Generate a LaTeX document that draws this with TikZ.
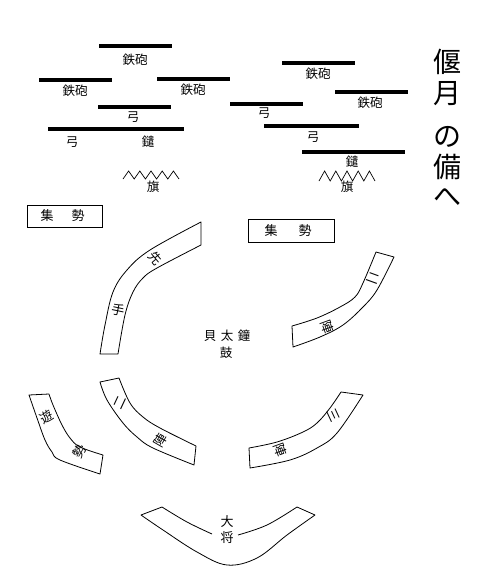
\documentclass[tikz,border=0pt]{standalone}
\usepackage{fontspec}
\newfontfamily\jp{Noto Sans CJK JP}
\begin{document}
\begin{tikzpicture}[x=1pt,y=-1pt,
  lbl/.style={font=\jp\fontsize{12.5}{13}\selectfont, inner sep=0pt},
  bandlbl/.style={font=\jp\fontsize{13}{13}\selectfont, inner sep=0.5pt},
  ttl/.style={font=\jp\fontsize{28}{28}\selectfont, inner sep=0pt},
  bar/.style={line width=4pt},
  band/.style={line width=0.8pt, line join=round},
  boxst/.style={draw, line width=0.8pt, inner sep=0pt},
  zig/.style={line width=0.7pt, line join=miter}]
\useasboundingbox (0,0) rectangle (500,568);

% ---- bars (left group)
\draw[bar] (99,46) -- (172,46);
\node[lbl] (t1) at (135,60) {鉄砲};
\draw[bar] (39,80) -- (112,80);
\node[lbl] (t2) at (75,91) {鉄砲};
\draw[bar] (157,79) -- (230,79);
\node[lbl] (t3) at (193,90) {鉄砲};
\draw[bar] (98,107) -- (171,107);
\node[lbl] (y1) at (133,117) {弓};
\draw[bar] (48,129) -- (184,129);
\node[lbl] (y2) at (72,142) {弓};
\node[lbl] (s1) at (148,142) {鑓};
\draw[zig] (123,179) -- (128.6,171) -- (134.2,179) -- (139.8,171) -- (145.4,179) -- (151,171) -- (156.6,179) -- (162.2,171) -- (167.8,179) -- (173.4,171) -- (179,179);
\node[lbl] (h1) at (153,187) {旗};

% ---- bars (right group)
\draw[bar] (282,63) -- (355,63);
\node[lbl] (t4) at (318,74) {鉄砲};
\draw[bar] (335,92) -- (408,92);
\node[lbl] (t5) at (370,103) {鉄砲};
\draw[bar] (230,104) -- (303,104);
\node[lbl] (y3) at (264,113) {弓};
\draw[bar] (264,126) -- (359,126);
\node[lbl] (y4) at (313,137) {弓};
\draw[bar] (302,152) -- (405,152);
\node[lbl] (s2) at (352,162) {鑓};
\draw[zig] (319,181) -- (324.6,171) -- (330.2,181) -- (335.8,171) -- (341.4,181) -- (347,171) -- (352.6,181) -- (358.2,171) -- (363.8,181) -- (369.4,171) -- (375,181);
\node[lbl] (h2) at (347,187) {旗};

% ---- title
\node[ttl] (c1) at (447,62) {偃};
\node[ttl] (c2) at (447,94) {月};
\node[ttl] (c3) at (447,137) {の};
\node[ttl] (c4) at (447,167) {備};
\node[ttl] (c5) at (447,197) {へ};

% ---- boxes
\node[boxst, minimum width=75pt, minimum height=22pt] (b1) at (64.5,216) {};
\node[lbl, font=\jp\fontsize{13}{13}\selectfont] (b1a) at (47,216) {集};
\node[lbl, font=\jp\fontsize{13}{13}\selectfont] (b1b) at (78,216) {勢};
\node[boxst, minimum width=86pt, minimum height=23pt] (b2) at (291,230.5) {};
\node[lbl, font=\jp\fontsize{13}{13}\selectfont] (b2a) at (271,231) {集};
\node[lbl, font=\jp\fontsize{13}{13}\selectfont] (b2b) at (305,231) {勢};

% ---- band: 先手
\draw[band] plot[smooth, tension=0.6] coordinates {(100,354) (105,325) (113,292) (127,270) (150,250) (201,222)}
  -- (201,245)
  -- plot[smooth, tension=0.6] coordinates {(201,245) (157,268) (143,278) (133,292) (125,315) (118,354)}
  -- cycle;
\node[bandlbl, rotate=-50] (sen) at (155,258) {先};
\node[bandlbl, rotate=-12] (te) at (118,310) {手};

% ---- band: 二陣 (right upper)
\draw[band] plot[smooth, tension=0.6] coordinates {(292,326) (317,318) (340,307) (355,297) (363,283) (376,252)}
  -- (394,257)
  -- plot[smooth, tension=0.6] coordinates {(394,257) (377,290) (363,307) (343,325) (320,337) (293,347)}
  -- cycle;
\node[bandlbl, rotate=-20] (ni1) at (373,278) {二};
\node[bandlbl, rotate=-70] (jin1) at (327,327) {陣};

% ---- band: 遊勢
\draw[band] plot[smooth, tension=0.6] coordinates {(29,395) (37,418) (45,440) (52,452) (60,460) (100,474)}
  -- (103,455)
  -- plot[smooth, tension=0.6] coordinates {(103,455) (80,447) (70,438) (62,425) (53,405) (49,394)}
  -- cycle;
\node[bandlbl, rotate=30] (yu) at (47,417) {遊};
\node[bandlbl, rotate=60] (sei) at (79,451) {勢};

% ---- band: 二陣 (middle left)
\draw[band] plot[smooth, tension=0.6] coordinates {(100,382) (107,400) (123,423) (137,437) (153,448) (194,465)}
  -- (196,446)
  -- plot[smooth, tension=0.6] coordinates {(196,446) (160,428) (143,417) (130,403) (119,378)}
  -- cycle;
\node[bandlbl, rotate=65] (ni2) at (120,403) {二};
\node[bandlbl, rotate=60] (jin2) at (160,440) {陣};

% ---- band: 三陣
\draw[band] plot[smooth, tension=0.6] coordinates {(249,448) (277,442) (303,432) (317,423) (330,408) (341,392)}
  -- (363,395)
  -- plot[smooth, tension=0.6] coordinates {(363,395) (337,433) (317,448) (290,460) (250,468)}
  -- cycle;
\node[bandlbl, rotate=-65] (san) at (334,415) {三};
\node[bandlbl, rotate=-70] (jin3) at (280,450) {陣};

% ---- band: 大将
\draw[band] plot[smooth, tension=0.6] coordinates {(212,534) (187,522) (162,507)}
  -- (141,515)
  -- plot[smooth, tension=0.6] coordinates {(141,515) (163,530) (197,552) (227,565) (257,558) (287,535) (315,515)}
  -- (297,507)
  -- plot[smooth, tension=0.6] coordinates {(297,507) (267,525) (238,535)};
\node[bandlbl] (dai) at (227,522) {大};
\node[bandlbl] (sho) at (227,538) {将};

% ---- center
\node[lbl] (k1) at (210,336) {貝};
\node[lbl] (k2) at (227,336) {太};
\node[lbl] (k3) at (244,336) {鐘};
\node[lbl] (k4) at (226,353) {鼓};
\end{tikzpicture}
\end{document}
